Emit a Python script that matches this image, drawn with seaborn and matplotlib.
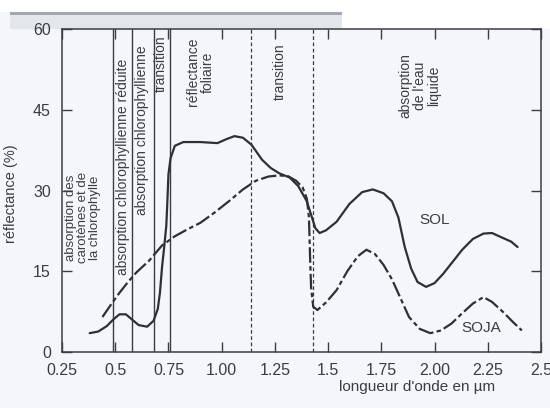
import numpy as np
import pandas as pd
import seaborn as sns
import matplotlib
matplotlib.use('Agg')
import matplotlib.pyplot as plt
from matplotlib.patches import Rectangle

# values
sol_x = [0.38, 0.42, 0.46, 0.49, 0.52, 0.55, 0.58, 0.61, 0.65, 0.68, 0.70, 0.71, 0.72, 0.73,
         0.74, 0.745, 0.75, 0.76, 0.78, 0.82, 0.90, 0.98, 1.02, 1.06, 1.10, 1.14, 1.19, 1.23,
         1.27, 1.32, 1.36, 1.40, 1.42, 1.44, 1.46, 1.49, 1.54, 1.60, 1.66, 1.71, 1.76, 1.80,
         1.83, 1.86, 1.89, 1.92, 1.96, 2.00, 2.04, 2.08, 2.13, 2.18, 2.23, 2.27, 2.32, 2.36, 2.39]
sol_y = [3.5, 3.8, 4.8, 6.0, 7.0, 7.0, 6.0, 5.0, 4.7, 5.8, 8.0, 11, 15.8, 19.5,
         23.5, 28, 33, 36, 38.3, 39, 39, 38.8, 39.5, 40.1, 39.8, 38.5, 35.7, 34.2,
         33.2, 32.4, 30.8, 28, 25.5, 23, 22.1, 22.6, 24.2, 27.5, 29.7, 30.2, 29.5, 28,
         25, 19.5, 15.5, 13, 12.1, 12.8, 14.5, 16.5, 19, 21, 22, 22.1, 21.2, 20.5, 19.5]

soja_x = [0.44, 0.48, 0.52, 0.56, 0.60, 0.66, 0.72, 0.78, 0.84, 0.90, 0.97, 1.04, 1.10, 1.16,
          1.22, 1.27, 1.31, 1.35, 1.38, 1.40, 1.41, 1.415, 1.42, 1.43, 1.45, 1.49, 1.54, 1.59,
          1.64, 1.68, 1.72, 1.76, 1.80, 1.84, 1.88, 1.93, 1.98, 2.03, 2.08, 2.13, 2.18, 2.23,
          2.27, 2.32, 2.37, 2.41]
soja_y = [6.5, 8.8, 11, 13, 14.8, 17, 19.8, 21.5, 22.8, 24, 26, 28.2, 30.2, 31.8,
          32.6, 32.8, 32.7, 31.8, 30.6, 28.5, 25, 18, 12, 8.4, 7.8, 9.2, 11.5, 15,
          17.8, 19, 18.2, 16.2, 13.5, 10, 6.5, 4.3, 3.5, 4.0, 5.3, 7.2, 9, 10.2,
          9.3, 7.5, 5.5, 4.0]

xticks = [0.25, 0.5, 0.75, 1.0, 1.25, 1.5, 1.75, 2.0, 2.25, 2.5]
xtick_labels = ['0.25', '0.5', '0.75', '1.00', '1.25', '1.5', '1.75', '2.00', '2.25', '2.5']
yticks = [0, 15, 30, 45, 60]

# band limits (µm)
solid_bounds = [0.49, 0.58, 0.68, 0.755]
dashed_bounds = [1.14, 1.43]

# text, x, y, fontsize
band_labels = [
    ('absorption des\ncarotènes et de\nla chlorophylle', 0.35, 25, 9.5),
    ('absorption chlorophyllienne réduite', 0.535, 34.3, 10),
    ('absorption chlorophyllienne', 0.628, 41.2, 10),
    ('transition', 0.715, 53.5, 10),
    ('réflectance\nfoliaire', 0.90, 52, 10),
    ('transition', 1.275, 52, 10),
    ('absorption\nde l\'eau\nliquide', 1.93, 49.5, 10),
]

df = pd.concat([
    pd.DataFrame({'wl': sol_x, 'refl': sol_y, 'surface': 'SOL'}),
    pd.DataFrame({'wl': soja_x, 'refl': soja_y, 'surface': 'SOJA'}),
])

sns.set_style('ticks')
plt.rcParams['font.family'] = ['Liberation Sans', 'DejaVu Sans']
ink = '#3b3d42'

fig = plt.figure(figsize=(5.5, 4.08), dpi=100, facecolor='#f4f6fa')
ax = fig.add_axes([62 / 550, 1 - 352 / 408, (541 - 62) / 550, (352 - 29) / 408])
ax.set_facecolor('#f4f6fa')

# scanned page edge at the top
page = [
    ((0, 1 - 12 / 408), 1, 12 / 408, 'white'),
    ((342 / 550, 1 - 29 / 408), 1, 17 / 408, 'white'),
    ((10 / 550, 1 - 29 / 408), 332 / 550, 15 / 408, '#e3e6eb'),
    ((10 / 550, 1 - 15 / 408), 332 / 550, 3 / 408, '#a3a8b0'),
]
for xy, w, h, c in page:
    fig.patches.append(Rectangle(xy, w, h, transform=fig.transFigure,
                                 facecolor=c, edgecolor='none', zorder=-5))

for b in solid_bounds:
    ax.axvline(b, color=ink, lw=1.0, zorder=1)
for b in dashed_bounds:
    ax.axvline(b, color=ink, lw=0.9, ls=(0, (3, 2)), zorder=1)

sns.lineplot(data=df, x='wl', y='refl', style='surface', ax=ax, color='#2e3035',
             dashes={'SOL': '', 'SOJA': (7, 1.5, 2, 1.5)}, lw=1.6,
             estimator=None, sort=True, legend=False, zorder=3)

for txt, x, y, fs in band_labels:
    ax.text(x, y, txt, rotation=90, ha='center', va='center', multialignment='center',
            fontsize=fs, color=ink, linespacing=1.0)

ax.text(2.00, 24.5, 'SOL', ha='center', va='center', fontsize=11, color=ink)
ax.text(2.22, 4.5, 'SOJA', ha='center', va='center', fontsize=11, color=ink)

ax.set_xlim(0.25, 2.5)
ax.set_ylim(0, 60)
ax.set_xticks(xticks)
ax.set_xticklabels(xtick_labels)
ax.set_yticks(yticks)
ax.tick_params(direction='in', length=7, width=1, top=True, right=True,
               labelsize=11.5, colors=ink)
ax.tick_params(axis='x', pad=8)
ax.tick_params(axis='y', pad=8)
for s in ax.spines.values():
    s.set_color(ink)
    s.set_linewidth(1.1)

ax.set_xlabel("longueur d'onde en µm", fontsize=11, color=ink)
ax.xaxis.set_label_coords(0.741, -0.088)
ax.set_ylabel('réflectance (%)', fontsize=10.5, color=ink)
ax.yaxis.set_label_coords(-0.092, 0.49)

fig.savefig('out.png', dpi=100, facecolor=fig.get_facecolor())
